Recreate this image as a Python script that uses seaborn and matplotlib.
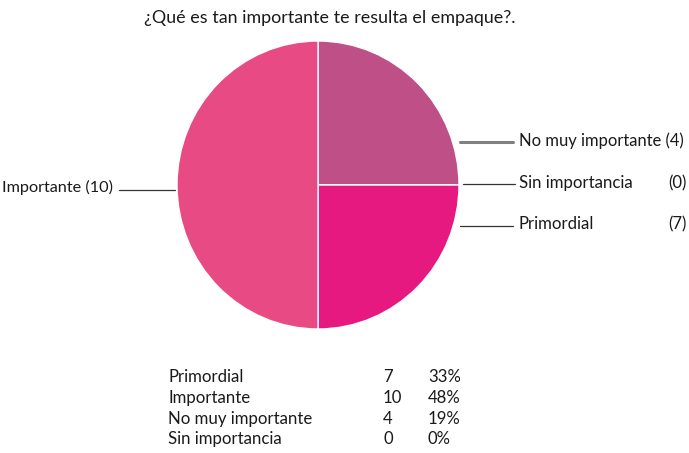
import matplotlib
matplotlib.use("Agg")
import matplotlib.pyplot as plt
import seaborn as sns

# ---- data ----
title = "¿Qué es tan importante te resulta el empaque?."
categories = ["Primordial", "Importante", "No muy importante", "Sin importancia"]
counts = [7, 10, 4, 0]
percents = ["33%", "48%", "19%", "0%"]
# slice shares as drawn in the picture (clockwise from 12 o'clock)
pie_order = ["No muy importante", "Sin importancia", "Primordial", "Importante"]
pie_share = [25, 0, 25, 50]

colors = {"No muy importante": "#BE4F87", "Sin importancia": "#D6337F",
          "Primordial": "#E5197F", "Importante": "#E84A84"}

sns.set_theme(style="white")
FONT = ["Lato", "DejaVu Sans"]
plt.rcParams["font.family"] = FONT

W, H = 689, 453
fig = plt.figure(figsize=(W / 100, H / 100), dpi=100)
fig.patch.set_facecolor("white")

# pie axes (box in pixels: left, top, right, bottom)
L, T, R, B = 177, 41, 459, 329
pax = fig.add_axes([L / W, 1 - B / H, (R - L) / W, (B - T) / H])
pal = sns.color_palette([colors[c] for c in pie_order])
pax.pie(pie_share, colors=pal, startangle=90, counterclock=False,
        wedgeprops=dict(edgecolor="white", linewidth=1.0), radius=1.0)
pax.set_aspect("auto")
pax.set_xlim(-1, 1)
pax.set_ylim(-1, 1)
pax.axis("off")

# overlay axes in pixel coordinates
ax = fig.add_axes([0, 0, 1, 1], facecolor="none")
ax.set_xlim(0, W)
ax.set_ylim(H, 0)
ax.axis("off")

fs = 12.1
tc = "#1a1a1a"
ax.text(144, 18, title, fontsize=12.9, va="center", ha="left", color=tc)

count_of = dict(zip(categories, counts))
# right-side labels
ax.plot([460, 513], [142, 142], color="#808080", lw=2.2)
ax.text(519, 141, f"No muy importante ({count_of['No muy importante']})", fontsize=11.9,
        va="center", ha="left", color=tc)
ax.plot([463, 515], [184, 184], color="#333333", lw=0.9)
ax.text(519, 183, "Sin importancia", fontsize=fs, va="center", ha="left", color=tc)
ax.text(687, 183, f"({count_of['Sin importancia']})", fontsize=fs, va="center", ha="right", color=tc)
ax.plot([460, 513], [226, 226], color="#333333", lw=0.9)
ax.text(519, 224, "Primordial", fontsize=fs, va="center", ha="left", color=tc)
ax.text(687, 224, f"({count_of['Primordial']})", fontsize=fs, va="center", ha="right", color=tc)
# left label
ax.plot([119, 175], [190, 190], color="#333333", lw=0.9)
ax.text(2, 187, f"Importante ({count_of['Importante']})", fontsize=11.7, va="center", ha="left", color=tc)

# table
row_y = [377, 398, 419, 439]
for y, c, n, p in zip(row_y, categories, counts, percents):
    ax.text(168, y, c, fontsize=fs, va="center", ha="left", color=tc)
    ax.text(383, y, str(n), fontsize=fs, va="center", ha="left", color=tc)
    ax.text(428, y, p, fontsize=fs, va="center", ha="left", color=tc)

fig.savefig("out.png", dpi=100, facecolor="white")
